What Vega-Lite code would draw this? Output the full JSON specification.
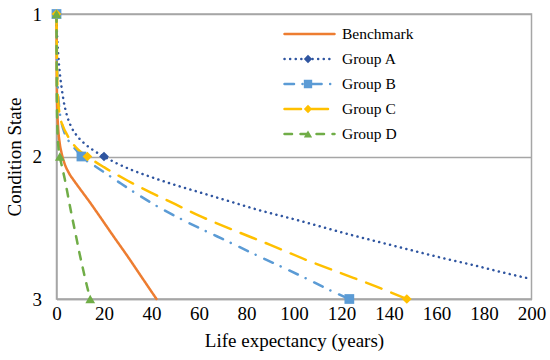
{
  "$schema": "https://vega.github.io/schema/vega-lite/v6.json",
  "width": 475,
  "height": 285,
  "autosize": {"type": "none"},
  "padding": {"left": 56.5, "top": 14, "right": 18.5, "bottom": 61},
  "background": "white",
  "config": {
    "view": {"stroke": "#A6A6A6", "strokeWidth": 1.5},
    "font": "Liberation Serif",
    "axis": {
      "labelFont": "Liberation Serif",
      "titleFont": "Liberation Serif",
      "labelFontSize": 19,
      "titleFontSize": 19,
      "labelColor": "black",
      "titleColor": "black",
      "titleFontWeight": "normal",
      "ticks": false,
      "domainColor": "#A6A6A6",
      "domainWidth": 1.5,
      "gridColor": "#A6A6A6",
      "gridWidth": 1.5
    }
  },
  "resolve": {"axis": {"y": "shared"}},
  "datasets": {
    "curves": [
      {"series": "Benchmark", "x": 0, "state": 1},
      {"series": "Benchmark", "x": 0.1, "state": 1.4},
      {"series": "Benchmark", "x": 0.3, "state": 1.65},
      {"series": "Benchmark", "x": 0.7, "state": 1.8},
      {"series": "Benchmark", "x": 1.3, "state": 1.9},
      {"series": "Benchmark", "x": 2.2, "state": 1.98},
      {"series": "Benchmark", "x": 3.4, "state": 2.05},
      {"series": "Benchmark", "x": 5.2, "state": 2.115},
      {"series": "Benchmark", "x": 7.4, "state": 2.17},
      {"series": "Benchmark", "x": 9.8, "state": 2.225},
      {"series": "Benchmark", "x": 14, "state": 2.32},
      {"series": "Benchmark", "x": 18.2, "state": 2.42},
      {"series": "Benchmark", "x": 24, "state": 2.56},
      {"series": "Benchmark", "x": 29.5, "state": 2.69},
      {"series": "Benchmark", "x": 36, "state": 2.85},
      {"series": "Benchmark", "x": 42.1, "state": 3.0},

      {"series": "Group A", "x": 0, "state": 1},
      {"series": "Group A", "x": 0.15, "state": 1.1},
      {"series": "Group A", "x": 0.4, "state": 1.2},
      {"series": "Group A", "x": 0.7, "state": 1.275},
      {"series": "Group A", "x": 1.3, "state": 1.4},
      {"series": "Group A", "x": 2.1, "state": 1.51},
      {"series": "Group A", "x": 3, "state": 1.61},
      {"series": "Group A", "x": 4.2, "state": 1.7},
      {"series": "Group A", "x": 6, "state": 1.785},
      {"series": "Group A", "x": 8.4, "state": 1.85},
      {"series": "Group A", "x": 11.5, "state": 1.905},
      {"series": "Group A", "x": 15.4, "state": 1.955},
      {"series": "Group A", "x": 20, "state": 2.0},
      {"series": "Group A", "x": 25, "state": 2.045},
      {"series": "Group A", "x": 31, "state": 2.09},
      {"series": "Group A", "x": 40, "state": 2.145},
      {"series": "Group A", "x": 50, "state": 2.2},
      {"series": "Group A", "x": 60, "state": 2.25},
      {"series": "Group A", "x": 72, "state": 2.31},
      {"series": "Group A", "x": 85, "state": 2.375},
      {"series": "Group A", "x": 100, "state": 2.44},
      {"series": "Group A", "x": 112, "state": 2.495},
      {"series": "Group A", "x": 124, "state": 2.55},
      {"series": "Group A", "x": 137, "state": 2.605},
      {"series": "Group A", "x": 150, "state": 2.66},
      {"series": "Group A", "x": 162, "state": 2.71},
      {"series": "Group A", "x": 175, "state": 2.76},
      {"series": "Group A", "x": 187, "state": 2.81},
      {"series": "Group A", "x": 200, "state": 2.86},

      {"series": "Group B", "x": 0, "state": 1},
      {"series": "Group B", "x": 0.1, "state": 1.2},
      {"series": "Group B", "x": 0.4, "state": 1.45},
      {"series": "Group B", "x": 1, "state": 1.63},
      {"series": "Group B", "x": 2, "state": 1.75},
      {"series": "Group B", "x": 3.3, "state": 1.83},
      {"series": "Group B", "x": 4.9, "state": 1.885},
      {"series": "Group B", "x": 7, "state": 1.93},
      {"series": "Group B", "x": 8.8, "state": 1.965},
      {"series": "Group B", "x": 10.5, "state": 2.0},
      {"series": "Group B", "x": 15.4, "state": 2.058},
      {"series": "Group B", "x": 20, "state": 2.11},
      {"series": "Group B", "x": 26.7, "state": 2.185},
      {"series": "Group B", "x": 35, "state": 2.275},
      {"series": "Group B", "x": 43.5, "state": 2.36},
      {"series": "Group B", "x": 52, "state": 2.435},
      {"series": "Group B", "x": 61.8, "state": 2.515},
      {"series": "Group B", "x": 72, "state": 2.595},
      {"series": "Group B", "x": 82, "state": 2.675},
      {"series": "Group B", "x": 92.7, "state": 2.758},
      {"series": "Group B", "x": 105, "state": 2.855},
      {"series": "Group B", "x": 117.2, "state": 2.955},
      {"series": "Group B", "x": 123.3, "state": 3.0},

      {"series": "Group C", "x": 0, "state": 1},
      {"series": "Group C", "x": 0.1, "state": 1.2},
      {"series": "Group C", "x": 0.3, "state": 1.45},
      {"series": "Group C", "x": 0.7, "state": 1.61},
      {"series": "Group C", "x": 1.4, "state": 1.71},
      {"series": "Group C", "x": 2.8, "state": 1.79},
      {"series": "Group C", "x": 4.2, "state": 1.84},
      {"series": "Group C", "x": 5.6, "state": 1.88},
      {"series": "Group C", "x": 9, "state": 1.95},
      {"series": "Group C", "x": 13, "state": 2.0},
      {"series": "Group C", "x": 20, "state": 2.075},
      {"series": "Group C", "x": 30, "state": 2.17},
      {"series": "Group C", "x": 40, "state": 2.255},
      {"series": "Group C", "x": 50, "state": 2.335},
      {"series": "Group C", "x": 60, "state": 2.415},
      {"series": "Group C", "x": 75, "state": 2.52},
      {"series": "Group C", "x": 90, "state": 2.62},
      {"series": "Group C", "x": 105, "state": 2.725},
      {"series": "Group C", "x": 120, "state": 2.82},
      {"series": "Group C", "x": 135, "state": 2.915},
      {"series": "Group C", "x": 147.5, "state": 3.0},

      {"series": "Group D", "x": 0, "state": 1},
      {"series": "Group D", "x": 0.05, "state": 1.3},
      {"series": "Group D", "x": 0.15, "state": 1.6},
      {"series": "Group D", "x": 0.4, "state": 1.82},
      {"series": "Group D", "x": 0.8, "state": 1.93},
      {"series": "Group D", "x": 1.4, "state": 2.0},
      {"series": "Group D", "x": 2.3, "state": 2.07},
      {"series": "Group D", "x": 3.5, "state": 2.16},
      {"series": "Group D", "x": 5, "state": 2.29},
      {"series": "Group D", "x": 6.5, "state": 2.42},
      {"series": "Group D", "x": 8, "state": 2.54},
      {"series": "Group D", "x": 9.7, "state": 2.68},
      {"series": "Group D", "x": 11.3, "state": 2.8},
      {"series": "Group D", "x": 12.7, "state": 2.9},
      {"series": "Group D", "x": 14.2, "state": 3.0}
    ],
    "markers": [
      {"series": "Group A", "x": 0, "state": 1},
      {"series": "Group A", "x": 20, "state": 2},
      {"series": "Group B", "x": 0, "state": 1},
      {"series": "Group B", "x": 10.5, "state": 2},
      {"series": "Group B", "x": 123.3, "state": 3},
      {"series": "Group C", "x": 0, "state": 1},
      {"series": "Group C", "x": 13, "state": 2},
      {"series": "Group C", "x": 147.5, "state": 3},
      {"series": "Group D", "x": 0, "state": 1},
      {"series": "Group D", "x": 1.4, "state": 2},
      {"series": "Group D", "x": 14.2, "state": 3}
    ]
  },
  "layer": [
    {
      "data": {"name": "curves"},
      "mark": {"type": "line", "strokeWidth": 2.5, "strokeCap": "round", "interpolate": "monotone", "clip": false},
      "encoding": {
        "x": {
          "field": "x", "type": "quantitative",
          "scale": {"domain": [0, 200], "nice": false, "zero": false},
          "axis": {"values": [0, 20, 40, 60, 80, 100, 120, 140, 160, 180, 200], "grid": false, "title": "Life expectancy (years)", "labelPadding": 5, "titlePadding": 8, "labelFlush": false}
        },
        "y": {
          "field": "state", "type": "quantitative",
          "scale": {"domain": [1, 3], "reverse": true, "nice": false, "zero": false},
          "axis": {"values": [1, 2, 3], "labelExpr": "toString(datum.value)", "grid": true, "title": "Condition State", "labelPadding": 15, "titlePadding": 8, "labelOverlap": false, "labelFlush": false}
        },
        "order": {"field": "state", "type": "quantitative"},
        "color": {
          "field": "series", "type": "nominal",
          "scale": {
            "domain": ["Benchmark", "Group A", "Group B", "Group C", "Group D"],
            "range": ["#ED7D31", "#2F55A0", "#5B9BD5", "#FFC000", "#70AD47"]
          },
          "legend": {
            "orient": "none", "legendX": 226.5, "legendY": 7.5,
            "title": null,
            "symbolType": "stroke", "symbolSize": 2500, "symbolStrokeWidth": 2.5,
            "clipHeight": 25, "rowPadding": 0,
            "labelFont": "Liberation Serif", "labelFontSize": 15.5, "labelColor": "black", "labelOffset": 6,
            "encode": {"symbols": {"update": {"strokeCap": {"value": "round"}}}}
          }
        },
        "strokeDash": {
          "field": "series", "type": "nominal",
          "scale": {
            "domain": ["Benchmark", "Group A", "Group B", "Group C", "Group D"],
            "range": [[1, 0], [0.1, 5.5], [9.5, 8.5, 0.1, 9.5], [16.5, 10.5], [7.5, 8.5]]
          }
        }
      }
    },
    {
      "data": {"name": "markers"},
      "mark": {"type": "point", "filled": true, "opacity": 1, "size": 95, "strokeWidth": 0, "clip": false},
      "encoding": {
        "x": {"field": "x", "type": "quantitative"},
        "y": {
          "field": "state", "type": "quantitative",
          "axis": {"values": [1, 2, 3], "labelExpr": "toString(datum.value)", "grid": true, "title": "Condition State", "labelPadding": 15, "titlePadding": 8, "labelOverlap": false, "labelFlush": false}
        },
        "fill": {
          "field": "series", "type": "nominal",
          "scale": {
            "domain": ["Group A", "Group B", "Group C", "Group D"],
            "range": ["#2F55A0", "#5B9BD5", "#FFC000", "#70AD47"]
          },
          "legend": {
            "orient": "none", "legendX": 246.5, "legendY": 32.5,
            "title": null,
            "symbolSize": 70, "symbolStrokeWidth": 0, "symbolOpacity": 1,
            "clipHeight": 25, "rowPadding": 0,
            "labelExpr": "''"
          }
        },
        "shape": {
          "field": "series", "type": "nominal",
          "scale": {
            "domain": ["Group A", "Group B", "Group C", "Group D"],
            "range": ["diamond", "square", "diamond", "triangle-up"]
          },
          "legend": {
            "orient": "none", "legendX": 246.5, "legendY": 32.5,
            "title": null,
            "symbolSize": 70, "symbolStrokeWidth": 0, "symbolOpacity": 1,
            "clipHeight": 25, "rowPadding": 0,
            "labelExpr": "''"
          }
        }
      }
    }
  ]
}
